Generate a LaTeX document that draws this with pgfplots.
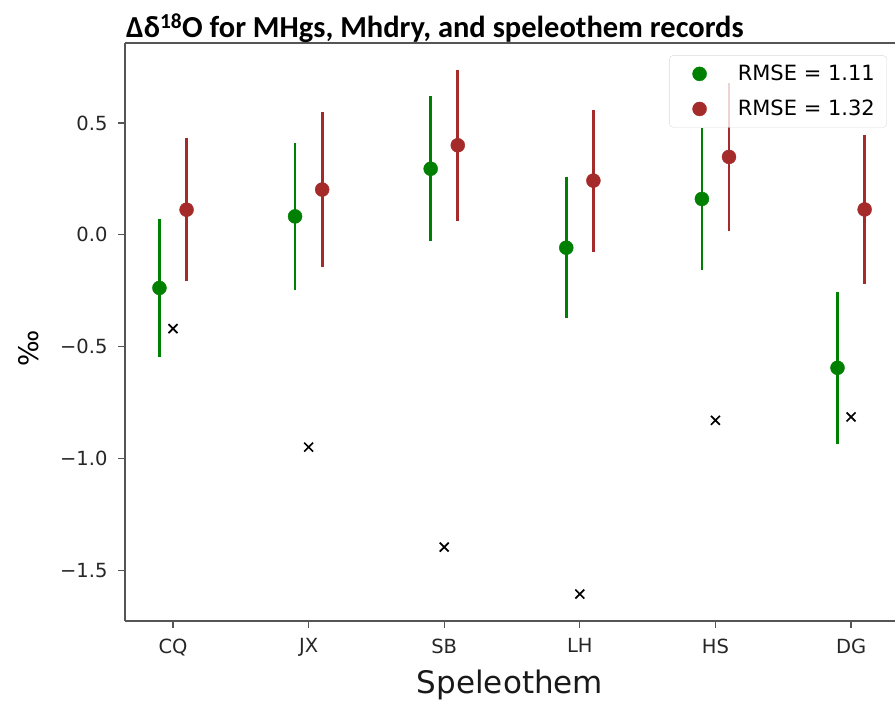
\documentclass[border=0pt]{standalone}
\usepackage{pgfplots}
\pgfplotsset{compat=1.18}
\usepackage{fontspec}
\setmainfont{DejaVu Sans}
\newfontfamily\titlefont{Carlito}
\definecolor{mgreen}{HTML}{008000}
\definecolor{mbrown}{HTML}{A52A2A}
\definecolor{spine}{HTML}{555555}

\pgfplotstableread{
x y e
-0.1 -0.238 0.31
0.9 0.082 0.33
1.9 0.295 0.325
2.9 -0.058 0.315
3.9 0.160 0.316
4.9 -0.595 0.34
}\greendata

\pgfplotstableread{
x y e
0.1 0.112 0.32
1.1 0.202 0.345
2.1 0.400 0.337
3.1 0.242 0.318
4.1 0.348 0.33
5.1 0.113 0.332
}\reddata

\pgfplotstableread{
x y
0 -0.42
1 -0.95
2 -1.397
3 -1.607
4 -0.83
5 -0.815
}\obsdata

\pgfplotsset{
  dotlegend/.style={legend image code/.code={%
    \path (0pt,0pt) (56pt,0pt);
    \draw[mark repeat=2,mark phase=2,##1,opacity=1] plot coordinates {(0pt,0pt)(20pt,0pt)(40pt,0pt)};}}
}

\begin{document}
\begin{tikzpicture}[x=1pt,y=1pt]
\begin{axis}[
  at={(125pt,85pt)}, anchor=south west,
  scale only axis, width=770pt, height=578pt,
  xmin=-0.354, xmax=5.324, ymin=-1.7275, ymax=0.8575,
  axis x line*=box, axis y line*=left,
  axis line style={-, line width=1.5pt, color=spine},
  xtick={0,1,2,3,4,5},
  xticklabels={CQ,JX,SB,LH,HS,DG},
  ytick={-1.5,-1,-0.5,0,0.5},
  yticklabels={−1.5,−1.0,−0.5,0.0,0.5},
  xtick pos=bottom, ytick pos=left,
  tick align=outside,
  major tick length=7pt,
  tick style={line width=1.2pt, color=spine},
  ticklabel style={font=\fontsize{19.5}{22}\selectfont, text=black!85},
  xticklabel style={yshift=-7pt},
  yticklabel style={xshift=-7pt},
  xlabel={Speleothem},
  xlabel style={at={(rel axis cs:0.5,0)}, anchor=center, yshift=-64pt, font=\fontsize{31}{36}\selectfont, text=black!90},
  ylabel={‰},
  ylabel style={at={(rel axis cs:-0.1247,0.472)}, anchor=center, font=\fontsize{27}{32}\selectfont},
  title={\titlefont\bfseries Δδ\textsuperscript{18}O for MHgs, Mhdry, and speleothem records},
  title style={at={(rel axis cs:0,1)}, anchor=base west, xshift=1pt, yshift=-1pt, inner sep=0pt, font=\fontsize{30.5}{34}\selectfont},
  legend style={at={(rel axis cs:0.9896,0.979)}, anchor=north east,
    draw=gray!30, rounded corners=4pt, fill=white, fill opacity=0.8, text opacity=1,
    font=\fontsize{21}{25}\selectfont, inner xsep=10pt, inner ysep=8pt, row sep=14pt},
  legend cell align=left,
  clip=false,
]
\addplot[only marks, mark=*, mark size=7pt, color=mgreen, dotlegend,
  error bars/.cd, y dir=both, y explicit,
  error bar style={line width=2.7pt, color=mgreen}, error mark=none]
  table[x=x, y=y, y error=e]{\greendata};
\addlegendentry{RMSE = 1.11}
\addplot[only marks, mark=*, mark size=7pt, color=mbrown, dotlegend,
  error bars/.cd, y dir=both, y explicit,
  error bar style={line width=2.7pt, color=mbrown}, error mark=none]
  table[x=x, y=y, y error=e]{\reddata};
\addlegendentry{RMSE = 1.32}
\addplot[only marks, mark=x, mark size=6.3pt, color=black, mark options={line width=1.7pt}, forget plot]
  table[x=x, y=y]{\obsdata};
\end{axis}
\pgfresetboundingbox
\path[use as bounding box] (0,0) rectangle (895pt,706pt);
\end{tikzpicture}
\end{document}
